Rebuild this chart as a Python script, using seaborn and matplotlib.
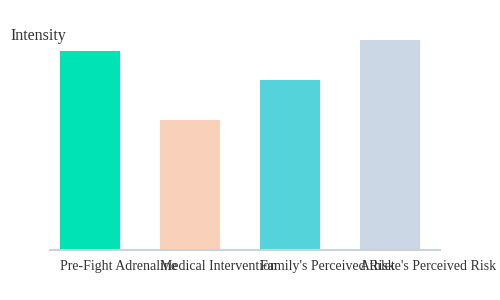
import matplotlib
matplotlib.use("Agg")
import matplotlib.pyplot as plt
import seaborn as sns
import pandas as pd

categories = ["Pre-Fight Adrenaline", "Medical Intervention",
              "Family's Perceived Risk", "Athlete's Perceived Risk"]
values = [95, 62, 81, 100]
colors = ["#00E3B5", "#F9D1BB", "#55D3DB", "#CBD7E5"]

sns.set_style("white")
plt.rcParams['font.family'] = ['Liberation Serif', 'DejaVu Serif']

df = pd.DataFrame({"category": categories, "value": values})

fig = plt.figure(figsize=(5, 3), dpi=100)
ax = fig.add_axes([0.1, 1 - 250 / 300, 0.78, 210 / 300])
sns.barplot(data=df, x="category", y="value", hue="category",
            palette=colors, width=0.6, legend=False, ax=ax, saturation=1,
            linewidth=0)

ax.set_xlim(-0.4, 3.5)
ax.set_ylim(0, 100)
ax.set_xlabel("")
ax.set_ylabel("")
ax.set_yticks([])
ax.set_xticks([i - 0.3 for i in range(len(categories))])
ax.set_xticklabels(categories, ha="left", fontsize=10, color="#333333")
ax.tick_params(axis="x", length=0, pad=7)
for s in ["top", "right", "left"]:
    ax.spines[s].set_visible(False)
ax.spines["bottom"].set_color("#CCD3D8")
ax.spines["bottom"].set_linewidth(1.5)

fig.text(10 / 500, 1 - 36 / 300, "Intensity", fontsize=11.5,
         color="#333333", va="center", ha="left")

fig.savefig("out.png", dpi=100)
